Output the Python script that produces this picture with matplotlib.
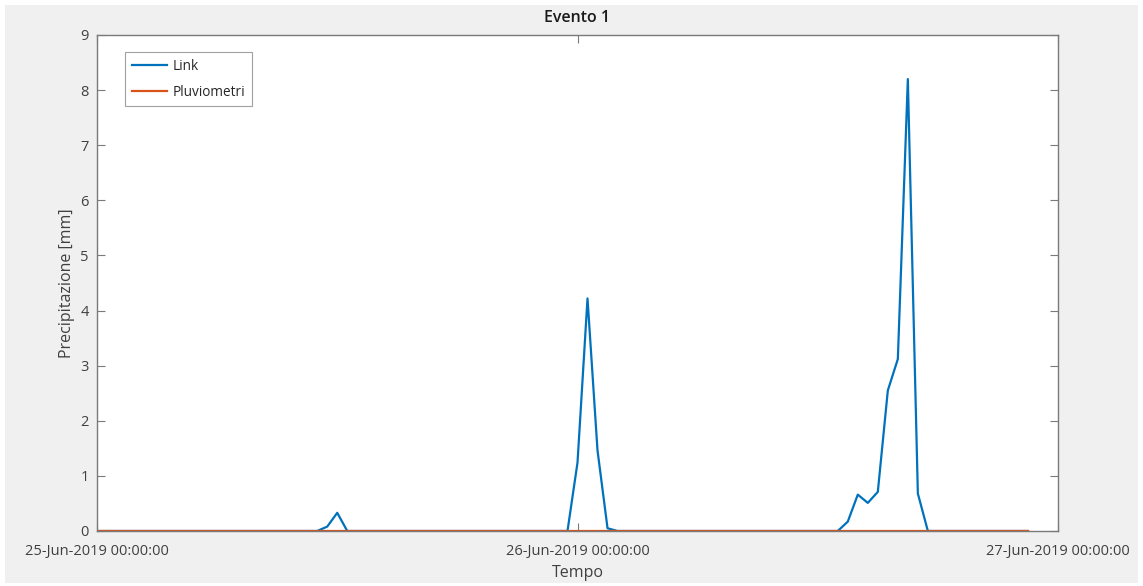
import datetime as dt
import matplotlib
matplotlib.use("Agg")
import matplotlib.pyplot as plt
import matplotlib.dates as mdates
from matplotlib.patches import Rectangle

plt.rcParams['font.family'] = ['Open Sans', 'DejaVu Sans']

# Half-hourly rainfall, 25-Jun-2019 00:00 to 26-Jun-2019 22:30
start = dt.datetime(2019, 6, 25, 0, 0, 0)
step_minutes = 30
link_mm = [
    0, 0, 0, 0, 0, 0, 0, 0, 0, 0,                    # hours 0.0 - 4.5
    0, 0, 0, 0, 0, 0, 0, 0, 0, 0,                    # hours 5.0 - 9.5
    0, 0, 0, 0.08, 0.33, 0, 0, 0, 0, 0,              # hours 10.0 - 14.5
    0, 0, 0, 0, 0, 0, 0, 0, 0, 0,                    # hours 15.0 - 19.5
    0, 0, 0, 0, 0, 0, 0, 0, 1.24, 4.22,              # hours 20.0 - 24.5
    1.46, 0.05, 0, 0, 0, 0, 0, 0, 0, 0,              # hours 25.0 - 29.5
    0, 0, 0, 0, 0, 0, 0, 0, 0, 0,                    # hours 30.0 - 34.5
    0, 0, 0, 0, 0, 0.17, 0.66, 0.51, 0.71, 2.55,     # hours 35.0 - 39.5
    3.12, 8.20, 0.68, 0, 0, 0, 0, 0, 0, 0,           # hours 40.0 - 44.5
    0, 0, 0, 0,                                      # hours 45.0 - 46.5
]
pluviometri_mm = [0] * len(link_mm)
times = [start + dt.timedelta(minutes=step_minutes * i) for i in range(len(link_mm))]

x_ticks = [dt.datetime(2019, 6, 25), dt.datetime(2019, 6, 26), dt.datetime(2019, 6, 27)]
y_ticks = list(range(0, 10))

blue = '#0072BD'
orange = '#D95319'
axis_grey = '#7a7a7a'
text_grey = '#404040'

fig = plt.figure(figsize=(11.43, 5.86), dpi=100, facecolor='white')
fig.patches.append(Rectangle((5 / 1143, 3 / 586), 1133 / 1143, 578 / 586,
                             transform=fig.transFigure, facecolor='#f0f0f0',
                             edgecolor='none', zorder=-10))

ax = fig.add_axes([97 / 1143, 55 / 586, 961 / 1143, 496 / 586])
ax.set_facecolor('white')

ax.plot(times, link_mm, color=blue, lw=1.6, label='Link')
ax.plot(times, pluviometri_mm, color=orange, lw=1.6, label='Pluviometri')

ax.set_xlim(x_ticks[0], x_ticks[-1])
ax.set_ylim(0, 9)
ax.set_xticks(x_ticks)
ax.xaxis.set_major_formatter(mdates.DateFormatter('%d-%b-%Y %H:%M:%S'))
ax.set_yticks(y_ticks)

for s in ax.spines.values():
    s.set_color(axis_grey)
    s.set_linewidth(1.0)

ax.tick_params(axis='both', direction='in', length=6, width=0.8, color=axis_grey,
               labelsize=10.5, labelcolor=text_grey, top=True, right=True)
ax.tick_params(axis='x', pad=9)
ax.tick_params(axis='y', pad=6)

ax.set_title('Evento 1', fontsize=11.5, color='#1a1a1a', pad=9, fontweight='semibold')
ax.set_xlabel('Tempo', fontsize=11.5, color=text_grey, labelpad=5)
ax.set_ylabel('Precipitazione [mm]', fontsize=11.5, color=text_grey, labelpad=4)

leg = ax.legend(loc='upper left', bbox_to_anchor=(0.029, 0.966), fontsize=9.8,
                frameon=True, fancybox=False, handlelength=2.6, borderpad=0.5,
                labelspacing=0.8, handletextpad=0.4, borderaxespad=0)
leg.get_frame().set_edgecolor('#8a8a8a')
leg.get_frame().set_linewidth(0.8)
for t in leg.get_texts():
    t.set_color('#262626')

fig.savefig('out.png', dpi=100, facecolor=fig.get_facecolor())
